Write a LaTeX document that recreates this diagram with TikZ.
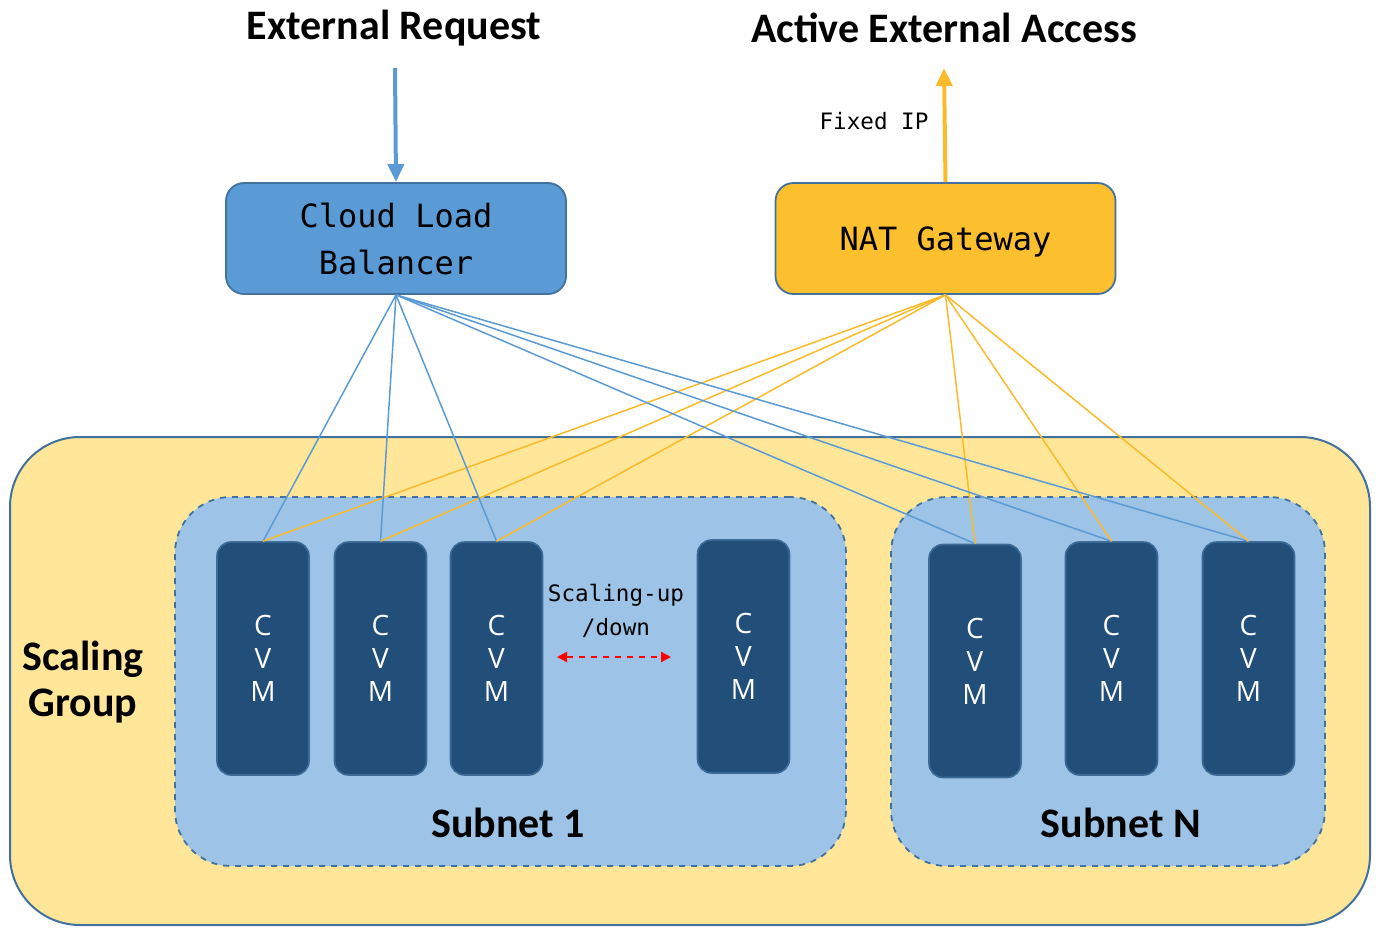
\documentclass[tikz,border=0pt]{standalone}
\usepackage{fontspec}
\setmainfont{Carlito}
\newfontfamily\monofont{DejaVu Sans Mono}
\newfontfamily\cvmfont{Open Sans}
\usetikzlibrary{arrows.meta}
\definecolor{groupfill}{HTML}{FFE699}
\definecolor{edgeblue}{HTML}{41719C}
\definecolor{subnetfill}{HTML}{9DC3E6}
\definecolor{cvmfill}{HTML}{224F7A}
\definecolor{cvmdraw}{HTML}{3D6B97}
\definecolor{lbfill}{HTML}{5B9BD5}
\definecolor{natfill}{HTML}{FCBF2E}
\definecolor{lbline}{HTML}{5B9BD5}
\definecolor{natline}{HTML}{FBBA2A}
\tikzset{
  group/.style={draw=edgeblue, fill=groupfill, line width=1pt, rounded corners=35pt,
    minimum width=680pt, minimum height=244pt},
  subnet/.style={draw=edgeblue, fill=subnetfill, line width=0.9pt, dashed, rounded corners=28pt,
    minimum height=184.5pt},
  cvm/.style={draw=cvmdraw, fill=cvmfill, line width=0.8pt, rounded corners=7pt,
    minimum width=46pt, minimum height=116.5pt, text=white, align=center,
    font=\cvmfont\fontsize{14}{16.5}\selectfont},
  gwbox/.style={draw=edgeblue, line width=0.9pt, rounded corners=9pt,
    minimum width=170pt, minimum height=55.5pt, align=center, text depth=-1pt,
    font=\monofont\fontsize{16}{23.5}\selectfont},
  title/.style={font=\bfseries\fontsize{21}{25}\selectfont},
  bigarrow/.style={line width=2pt, -{Triangle[length=9pt,width=8pt]}},
  lbwire/.style={lbline, line width=0.75pt},
  natwire/.style={natline, line width=0.75pt}
}
\begin{document}
\begin{tikzpicture}[x=0.5pt, y=-0.5pt]
\useasboundingbox (0,0) rectangle (1377,927);

% containers
\node[group] (sgroup) at (690, 681) {};
\node[font=\bfseries\fontsize{21}{23}\selectfont, align=center] (sglabel) at (83, 682) {Scaling\\Group};
\node[subnet, minimum width=335.5pt] (subnet1) at (510.5, 681.5) {};
\node[subnet, minimum width=217pt] (subnetn) at (1108, 681.5) {};
\node[title] (sub1label) at (508, 823) {Subnet 1};
\node[title] (subnlabel) at (1121, 823) {Subnet N};

% CVMs
\node[cvm] (cvm11) at (263, 658.5) {C\\V\\M};
\node[cvm] (cvm12) at (380.5, 658.5) {C\\V\\M};
\node[cvm] (cvm13) at (496.5, 658.5) {C\\V\\M};
\node[cvm] (cvm14) at (743.5, 656.5) {C\\V\\M};
\node[cvm] (cvmn1) at (975, 661) {C\\V\\M};
\node[cvm] (cvmn2) at (1111.5, 658.5) {C\\V\\M};
\node[cvm] (cvmn3) at (1248.5, 658.5) {C\\V\\M};

% scaling
\node[font=\monofont\fontsize{11.3}{17}\selectfont, align=center] (scalelabel) at (616, 611) {Scaling-up\\/down};
\coordinate (scl) at (557, 657);
\coordinate (scr) at (671, 657);
\path[red, line width=1pt, dashed, {Triangle[length=5pt,width=5pt]}-{Triangle[length=5pt,width=5pt]}] (scl) edge (scr);

% gateways
\node[gwbox, fill=lbfill] (clb) at (396, 238.5) {Cloud Load\\Balancer};
\node[gwbox, fill=natfill] (nat) at (945.5, 238.5) {NAT Gateway};

\node[title] (reqlabel) at (394, 28) {External Request};
\node[title] (acclabel) at (944, 28) {Active External Access};
\coordinate (reqtop) at (395, 68);
\coordinate (acctop) at (944, 68);
\path[bigarrow, lbline] (reqtop) edge (clb.north);
\path[bigarrow, natline] (nat.north) edge (acctop);
\node[font=\monofont\fontsize{11.3}{13}\selectfont] (fixedip) at (874, 121) {Fixed IP};

% wires
\foreach \v in {cvm11, cvm12, cvm13, cvmn1, cvmn2, cvmn3} {
  \path[lbwire] (clb.south) edge (\v.north);
  \path[natwire] (nat.south) edge (\v.north);
}
\end{tikzpicture}
\end{document}
